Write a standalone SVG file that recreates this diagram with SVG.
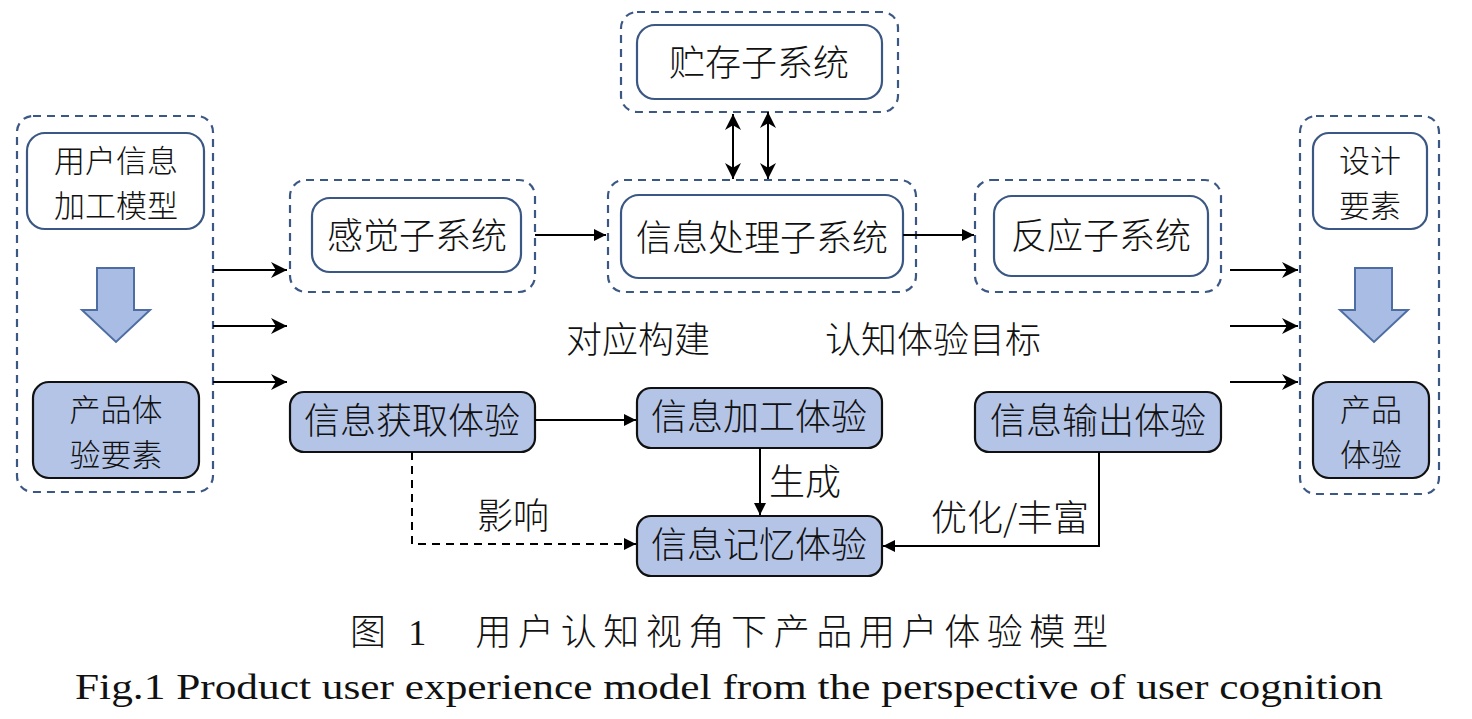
<svg xmlns="http://www.w3.org/2000/svg" width="1472" height="719" viewBox="0 0 1472 719">
<style>
.dash{fill:none;stroke:#3b5783;stroke-width:2.2;stroke-dasharray:8 6}
.box{fill:#fff;stroke:#3b5783;stroke-width:2.2}
.fbox{fill:#b4c4e6;stroke:#111;stroke-width:2.2}
.t{font-family:"Noto Sans CJK SC",sans-serif;font-size:36px;font-weight:300;fill:#111;text-anchor:middle}
.t2{font-size:31px}
.ln{fill:none;stroke:#000;stroke-width:2}
.big{fill:#a9bde4;stroke:#4e6ea3;stroke-width:2}
.cap{font-family:"Liberation Serif","Noto Sans CJK SC",serif;font-size:36px;fill:#111}
</style>
<defs>
<marker id="a" viewBox="0 0 10 10" refX="10" refY="5" markerWidth="16" markerHeight="12" markerUnits="userSpaceOnUse" orient="auto-start-reverse"><path d="M0,0L10,5L0,10z" fill="#000"/></marker>
<marker id="b" viewBox="0 0 10 10" refX="10" refY="5" markerWidth="22" markerHeight="16" markerUnits="userSpaceOnUse" orient="auto-start-reverse"><path d="M0,0L10,5L0,10L3,5z" fill="#000"/></marker>
</defs>
<rect width="1472" height="719" fill="#fff"/>
<g id="left">
<rect class="dash" x="17" y="116" width="196" height="376" rx="16"/>
<rect class="box" x="27" y="133" width="177" height="96" rx="18"/>
<text class="t t2" x="116" y="172">用户信息</text><text class="t t2" x="116" y="217">加工模型</text>
<path class="big" d="M97,268H134V310H150L116,342L82,310H97z"/>
<rect class="fbox" x="33" y="382" width="166" height="96" rx="16"/>
<text class="t t2" x="116" y="421">产品体</text><text class="t t2" x="116" y="466">验要素</text>
</g>
<g id="sense"><rect class="dash" x="290" y="180" width="245" height="112" rx="16"/><rect class="box" x="312" y="198" width="209" height="74" rx="18"/><text class="t" x="417" y="249">感觉子系统</text></g>
<g id="store"><rect class="dash" x="621" y="12" width="277" height="100" rx="16"/><rect class="box" x="637" y="25" width="245" height="74" rx="18"/><text class="t" x="759" y="76">贮存子系统</text></g>
<g id="proc"><rect class="dash" x="608" y="180" width="308" height="112" rx="16"/><rect class="box" x="621" y="195" width="282" height="83" rx="18"/><text class="t" x="762" y="251">信息处理子系统</text></g>
<g id="react"><rect class="dash" x="975" y="180" width="246" height="112" rx="16"/><rect class="box" x="994" y="196" width="214" height="80" rx="18"/><text class="t" x="1101" y="249">反应子系统</text></g>
<g id="right">
<rect class="dash" x="1300" y="116" width="139" height="378" rx="16"/>
<rect class="box" x="1313" y="133" width="114" height="96" rx="16"/>
<text class="t t2" x="1370" y="172">设计</text><text class="t t2" x="1370" y="217">要素</text>
<path class="big" d="M1355,268H1392V310H1408L1374,342L1340,310H1355z"/>
<rect class="fbox" x="1313" y="382" width="116" height="96" rx="16"/>
<text class="t t2" x="1371" y="421">产品</text><text class="t t2" x="1371" y="466">体验</text>
</g>
<g id="acq"><rect class="fbox" x="290" y="392" width="245" height="60" rx="14"/><text class="t" x="412" y="434">信息获取体验</text></g>
<g id="pro"><rect class="fbox" x="637" y="388" width="245" height="60" rx="14"/><text class="t" x="759" y="430">信息加工体验</text></g>
<g id="out"><rect class="fbox" x="975" y="392" width="246" height="60" rx="14"/><text class="t" x="1098" y="434">信息输出体验</text></g>
<g id="mem"><rect class="fbox" x="637" y="516" width="245" height="60" rx="14"/><text class="t" x="759" y="558">信息记忆体验</text></g>
<g id="labels">
<text class="t" x="638" y="353">对应构建</text>
<text class="t" x="933" y="353">认知体验目标</text>
<text class="t" x="805" y="495">生成</text>
<text class="t" x="513" y="529">影响</text>
<text class="t" x="1010" y="531">优化/丰富</text>
</g>
<g id="connectors">
<path class="ln" d="M213,270H287" marker-end="url(#b)"/>
<path class="ln" d="M213,326H287" marker-end="url(#b)"/>
<path class="ln" d="M213,382H287" marker-end="url(#b)"/>
<path class="ln" d="M1230,270H1298" marker-end="url(#b)"/>
<path class="ln" d="M1230,326H1298" marker-end="url(#b)"/>
<path class="ln" d="M1230,382H1298" marker-end="url(#b)"/>
<path class="ln" d="M535,235H606" marker-end="url(#a)"/>
<path class="ln" d="M903,235H974" marker-end="url(#a)"/>
<path class="ln" d="M733,114V179" marker-start="url(#b)" marker-end="url(#b)"/>
<path class="ln" d="M768,112V179" marker-start="url(#b)" marker-end="url(#b)"/>
<path class="ln" d="M535,420H636" marker-end="url(#a)"/>
<path class="ln" d="M760,448V515" marker-end="url(#a)"/>
<path class="ln" d="M412,452V544H636" stroke-dasharray="8 6" marker-end="url(#a)"/>
<path class="ln" d="M1099,452V546H883" marker-end="url(#a)"/>
</g>
<text class="cap" x="350" y="645" textLength="758" lengthAdjust="spacing" font-weight="300">图 1　用户认知视角下产品用户体验模型</text>
<text class="cap" x="75" y="699" textLength="1308" lengthAdjust="spacingAndGlyphs">Fig.1 Product user experience model from the perspective of user cognition</text>
</svg>
